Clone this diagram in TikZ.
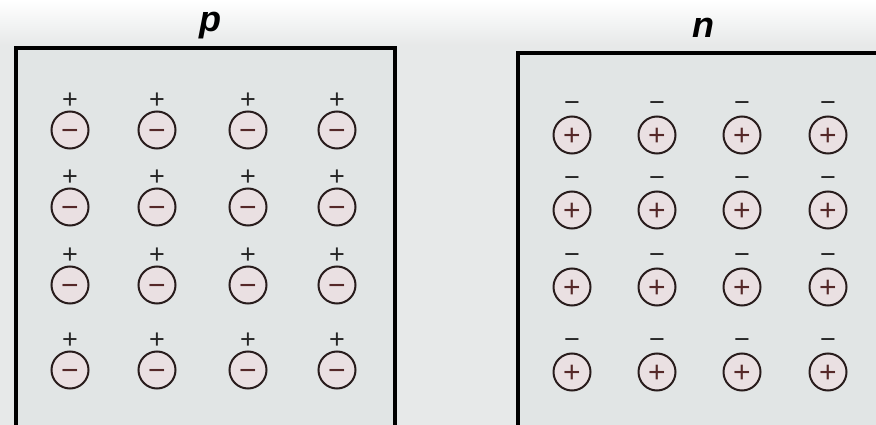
\documentclass[tikz,border=0pt]{standalone}
\usepackage{fontspec}
\setmainfont{Liberation Sans}
\usepackage{xcolor}

\definecolor{paper}{RGB}{231,233,233}
\definecolor{bulk}{RGB}{225,229,229}
\definecolor{ionline}{RGB}{40,28,28}
\definecolor{ionfill}{RGB}{234,224,226}
\definecolor{ionsign}{RGB}{85,40,40}

\begin{document}
\begin{tikzpicture}[x=1pt,y=-1pt,
    ion/.style={circle,draw=ionline,line width=2pt,fill=ionfill,
        minimum size=37pt,inner sep=0pt,text=ionsign,
        text height=21pt,text depth=0pt,
        font=\fontsize{30}{30}\selectfont},
    carrier/.style={inner sep=0pt,text=black!85,
        text height=19pt,text depth=0pt,
        font=\fontsize{27}{27}\selectfont},
    type/.style={inner sep=0pt,font=\fontsize{36}{36}\selectfont\bfseries\itshape},
    region/.style={draw=black,line width=3.6pt,fill=bulk}]

    \useasboundingbox (0,0) rectangle (876,425);
    \clip (0,0) rectangle (876,425);

    % Paper
    \fill[paper] (0,0) rectangle (876,425);
    \shade[top color=white,bottom color=paper] (0,0) rectangle (876,45);

    % p region
    \draw[region] (16,440) -- (16,48) -- (395,48) -- (395,440);
    \node[type] (plabel) at (210,26) {p};

    % n region
    \draw[region] (518,440) -- (518,53) -- (900,53) -- (900,440);
    \node[type] (nlabel) at (703,28) {n};

    % Acceptor ions with holes
    \foreach \x [count=\i] in {70,157,248,337}
        \foreach \y [count=\j] in {130,207,285,370} {
            \node[ion] (pion\i\j) at (\x,\y) {−};
            \node[carrier] (hole\i\j) at (\x,\y-31) {+};
        }

    % Donor ions with electrons
    \foreach \x [count=\i] in {572,657,742,828}
        \foreach \y [count=\j] in {135,210,287,372} {
            \node[ion] (nion\i\j) at (\x,\y) {+};
            \node[carrier] (elec\i\j) at (\x,\y-33) {−};
        }

\end{tikzpicture}
\end{document}
